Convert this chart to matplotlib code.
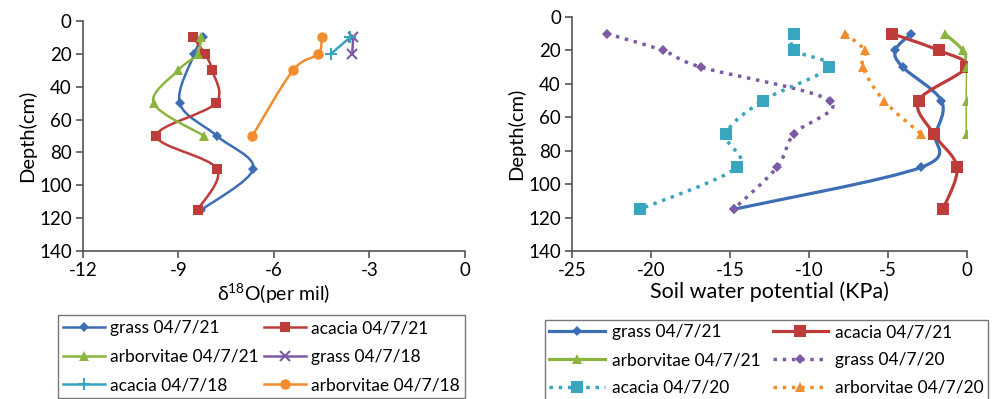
import matplotlib
matplotlib.use("Agg")
import matplotlib.pyplot as plt
import numpy as np
from matplotlib.path import Path
from matplotlib.patches import PathPatch
from matplotlib.lines import Line2D

plt.rcParams['font.family'] = ['Lato', 'DejaVu Sans']
plt.rcParams['mathtext.fontset'] = 'custom'
plt.rcParams['mathtext.rm'] = 'Lato'
plt.rcParams['mathtext.it'] = 'Lato:italic'
plt.rcParams['axes.unicode_minus'] = False

# left panel: delta 18O (per mil) vs depth (cm)
o_grass21_d = [10, 20, 50, 70, 90, 115]
o_grass21 = [-8.23, -8.5, -8.96, -7.79, -6.65, -8.28]
o_acacia21_d = [10, 20, 30, 50, 70, 90, 115]
o_acacia21 = [-8.54, -8.17, -7.94, -7.83, -9.69, -7.79, -8.40]
o_arbor21_d = [10, 20, 30, 50, 70]
o_arbor21 = [-8.30, -8.40, -9.01, -9.78, -8.19]
o_grass18_d = [10, 20]
o_grass18 = [-3.51, -3.54]
o_acacia18_d = [10, 20]
o_acacia18 = [-3.61, -4.21]
o_arbor18_d = [10, 20, 30, 70]
o_arbor18 = [-4.50, -4.61, -5.40, -6.68]

# right panel: soil water potential (KPa) vs depth (cm)
w_depth = [10, 20, 30, 50, 70, 90, 115]
w_arbor_d = [10, 20, 30, 50, 70]
w_grass21 = [-3.54, -4.54, -4.07, -1.62, -2.0, -2.91, -14.73]
w_acacia21 = [-4.75, -1.79, -0.05, -3.06, -2.11, -0.63, -1.52]
w_arbor21 = [-1.41, -0.27, 0.0, 0.0, 0.0]
w_grass20 = [-22.78, -19.26, -16.84, -8.69, -10.97, -12.03, -14.77]
w_acacia20 = [-10.93, -10.97, -8.71, -12.91, -15.25, -14.56, -20.68]
w_arbor20 = [-7.70, -6.48, -6.60, -5.27, -2.91]

BLUE = '#3D6DB3'
RED = '#BE3D3B'
GREEN = '#8BB53F'
PURPLE = '#7D5BA4'
TEAL = '#38A6BF'
ORANGE = '#F28C2E'


def smooth_path(x, y):
    # Excel-like smoothed line (Catmull-Rom as cubic Bezier)
    p = np.column_stack([x, y]).astype(float)
    n = len(p)
    verts = [p[0]]
    codes = [Path.MOVETO]
    for i in range(n - 1):
        p0 = p[i - 1] if i > 0 else p[i]
        p1 = p[i]
        p2 = p[i + 1]
        p3 = p[i + 2] if i + 2 < n else p[i + 1]
        c1 = p1 + (p2 - p0) / 6.0
        c2 = p2 - (p3 - p1) / 6.0
        verts += [c1, c2, p2]
        codes += [Path.CURVE4] * 3
    return Path(verts, codes)


def series(ax, x, y, color, marker, ms, ls='-', lw=1.8, smooth=True):
    if smooth and len(x) > 2:
        ax.add_patch(PathPatch(smooth_path(x, y), facecolor='none', edgecolor=color,
                               lw=lw, linestyle=ls, zorder=2))
    else:
        ax.plot(x, y, color=color, lw=lw, linestyle=ls, zorder=2)
    mew = 1.5 if marker in ('x', '+') else 0
    ax.plot(x, y, linestyle='none', marker=marker, ms=ms, color=color,
            mew=mew, zorder=3)
    return Line2D([], [], color=color, lw=lw, linestyle=ls, marker=marker,
                  ms=ms, mew=mew)


def style_axes(ax, xlim, xticks, xlabel, xlsize):
    ax.set_ylim(140, 0)
    ax.set_yticks(range(0, 141, 20))
    ax.set_xlim(*xlim)
    ax.set_xticks(xticks)
    for s in ('top', 'right'):
        ax.spines[s].set_visible(False)
    for s in ('left', 'bottom'):
        ax.spines[s].set_color('#555555')
        ax.spines[s].set_linewidth(1.2)
    ax.tick_params(axis='both', labelsize=13.5, length=5, width=1.2,
                   color='#555555', pad=3)
    ax.set_ylabel('Depth(cm)', fontsize=14.5, labelpad=2)
    ax.set_xlabel(xlabel, fontsize=xlsize, labelpad=2)


fig = plt.figure(figsize=(9.96, 3.99), dpi=100)

ax1 = fig.add_axes([0.0833, 0.371, 0.3835, 0.5764])
h = []
h.append(series(ax1, o_grass21, o_grass21_d, BLUE, 'D', 5))
h.append(series(ax1, o_acacia21, o_acacia21_d, RED, 's', 7.5))
h.append(series(ax1, o_arbor21, o_arbor21_d, GREEN, '^', 7))
h.append(series(ax1, o_grass18, o_grass18_d, PURPLE, 'x', 7))
h.append(series(ax1, o_acacia18, o_acacia18_d, TEAL, '+', 8))
h.append(series(ax1, o_arbor18, o_arbor18_d, ORANGE, 'o', 7.5))
style_axes(ax1, (-12, 0), [-12, -9, -6, -3, 0],
           r'$\mathregular{\delta^{18}}$O(per mil)', 14)
labels1 = ['grass 04/7/21', 'acacia 04/7/21', 'arborvitae 04/7/21',
           'grass 04/7/18', 'acacia 04/7/18', 'arborvitae 04/7/18']
order = [0, 2, 4, 1, 3, 5]
leg1 = fig.legend([h[i] for i in order], [labels1[i] for i in order], ncol=2,
                  loc='upper left', bbox_to_anchor=(0.058, 0.005, 0.409, 0.2055),
                  mode='expand', fontsize=12.5, frameon=True, fancybox=False,
                  edgecolor='#555555', handlelength=2.4, handletextpad=0.3,
                  labelspacing=0.72, borderpad=0.3, columnspacing=0.6,
                  borderaxespad=0)
leg1.get_frame().set_linewidth(1.0)

ax2 = fig.add_axes([0.5743, 0.371, 0.3966, 0.5865])
g = []
g.append(series(ax2, w_grass21, w_depth, BLUE, 'D', 5.5, lw=2.3))
g.append(series(ax2, w_acacia21, w_depth, RED, 's', 8, lw=2.3))
g.append(series(ax2, w_arbor21, w_arbor_d, GREEN, '^', 7, lw=2.3))
g.append(series(ax2, w_grass20, w_depth, PURPLE, 'D', 5.5, ls=':', lw=2.5))
g.append(series(ax2, w_acacia20, w_depth, TEAL, 's', 8, ls=':', lw=2.5))
g.append(series(ax2, w_arbor20, w_arbor_d, ORANGE, '^', 7, ls=':', lw=2.5))
style_axes(ax2, (-25, 0), [-25, -20, -15, -10, -5, 0],
           'Soil water potential (KPa)', 15.5)
labels2 = ['grass 04/7/21', 'acacia 04/7/21', 'arborvitae 04/7/21',
           'grass 04/7/20', 'acacia 04/7/20', 'arborvitae 04/7/20']
leg2 = fig.legend([g[i] for i in order], [labels2[i] for i in order], ncol=2,
                  loc='upper left', bbox_to_anchor=(0.547, 0.0, 0.445, 0.198),
                  mode='expand', fontsize=12.5, frameon=True, fancybox=False,
                  edgecolor='#555555', handlelength=3.2, handletextpad=0.4,
                  labelspacing=0.68, borderpad=0.25, columnspacing=0.6,
                  borderaxespad=0)
leg2.get_frame().set_linewidth(1.0)

fig.savefig('out.png', dpi=100)
